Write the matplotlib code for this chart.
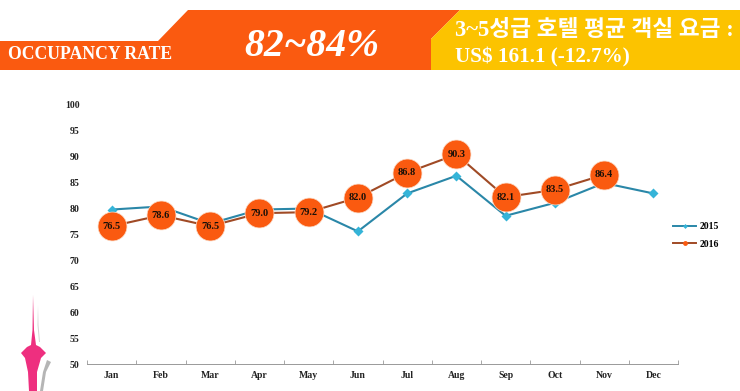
#!/usr/bin/env python3
import matplotlib
matplotlib.use("Agg")
import matplotlib.pyplot as plt
from matplotlib.patches import Polygon

plt.rcParams["font.family"] = ["Liberation Serif", "Noto Sans CJK KR", "DejaVu Sans"]

months = ["Jan", "Feb", "Mar", "Apr", "May", "Jun", "Jul", "Aug", "Sep", "Oct", "Nov", "Dec"]
y2015 = [79.7, 80.3, 77.0, 79.7, 79.9, 75.5, 82.8, 86.2, 78.5, 81.0, 84.8, 82.8]
y2016 = [76.5, 78.6, 76.5, 79.0, 79.2, 82.0, 86.8, 90.3, 82.1, 83.5, 86.4]
yticks = list(range(50, 101, 5))

W, H = 740, 391
ORANGE = "#fa5a10"
YELLOW = "#fcc300"
fig = plt.figure(figsize=(W/100, H/100), dpi=100)

# full-figure overlay in pixel coords for the banner and the tower
bg = fig.add_axes([0, 0, 1, 1])
bg.set_xlim(0, W); bg.set_ylim(H, 0); bg.axis("off")
bg.add_patch(Polygon([(0, 41), (158, 41), (188, 10), (460, 10), (431, 39), (431, 70), (0, 70)], fc=ORANGE, ec="none"))
bg.add_patch(Polygon([(460, 10), (740, 10), (740, 70), (431, 70), (431, 39)], fc=YELLOW, ec="none"))
bg.text(8, 54.5, "OCCUPANCY RATE", color="white", fontsize=12.7, fontweight="bold", va="center")
bg.text(312, 46, "82~84%", color="white", fontsize=28.5, style="italic", fontweight="bold", ha="center", va="center")
bg.text(455, 30, "3~5성급 호텔 평균 객실 요금 :", color="white", fontsize=16.3, fontweight="bold", va="center")
bg.text(455, 57, "US$ 161.1 (-12.7%)", color="white", fontsize=15.2, fontweight="bold", va="center")

# tower decoration, bottom left
bg.add_patch(Polygon([(33, 295), (34, 330), (36, 345), (40, 347), (46, 353), (41, 358), (37, 372), (37, 391),
                      (29, 391), (28, 372), (25, 358), (21, 353), (27, 347), (31, 345), (32.5, 330)],
                     fc="#ee2f7f", ec="none"))
bg.add_patch(Polygon([(38, 305), (38.5, 325), (40, 342), (39, 342), (37.5, 325)], fc="#d5d5d5", ec="none"))
bg.add_patch(Polygon([(47, 360), (51, 362), (46, 372), (43, 391), (40, 391), (43, 372)], fc="#b5b5b5", ec="none"))

# chart axes, placed so the frame lands on the reference pixels
L, R, T, B = 87, 678, 104, 364
ax = fig.add_axes([L/W, 1-B/H, (R-L)/W, (B-T)/H])
ax.patch.set_alpha(0)
x = list(range(len(months)))
ax.plot(x, y2015, color="#2a87a8", lw=1.5, zorder=2)
ax.plot(x, y2015, ls="none", marker="D", ms=5, color="#35b4d8", mec="none", zorder=2.5)
ax.plot(x[:len(y2016)], y2016, color="#a04a25", lw=1.5, zorder=3)
ax.plot(x[:len(y2016)], y2016, ls="none", marker="o", ms=20.8, color=ORANGE, mec="#fbd9c4", mew=0.5, zorder=4)
for i, v in zip(x, y2016):
    ax.text(i, v, f"{v:.1f}", ha="center", va="center", fontsize=7.5, fontweight="bold", color="#1a1008", zorder=5)

# legend entries use tiny markers, unlike the plotted ones
ax.plot([], [], color="#2a87a8", lw=1.4, marker="D", ms=2.5, mfc="#35b4d8", mec="none", label="2015")
ax.plot([], [], color="#a04a25", lw=1.4, marker="o", ms=3.5, mfc=ORANGE, mec="none", label="2016")
handles, labels = ax.get_legend_handles_labels()
ax.legend(handles, labels, loc="upper left", bbox_to_anchor=(0.9915, 0.546), frameon=False,
          handlelength=2.4, labelspacing=0.9, handletextpad=0.3, borderpad=0, borderaxespad=0,
          prop={"size": 7, "weight": "bold"})

ax.set_xlim(-0.5, 11.5); ax.set_ylim(50, 100)
ax.set_xticks([i-0.5 for i in range(13)])
ax.set_xticklabels([])
ax.tick_params(axis="x", length=3, width=0.6, color="#999999", direction="in")
ax.set_xticks(x, months, minor=True, fontsize=7, fontweight="bold", color="#222222")
ax.tick_params(axis="x", which="minor", length=0, pad=5)
ax.set_yticks(yticks, [str(t) for t in yticks], fontsize=7, fontweight="bold", color="#222222")
ax.tick_params(axis="y", length=0, pad=5.5)
for s in ["top", "right", "left"]:
    ax.spines[s].set_visible(False)
ax.spines["bottom"].set_color("#999999"); ax.spines["bottom"].set_linewidth(0.7)

fig.savefig("out.png", dpi=100)
